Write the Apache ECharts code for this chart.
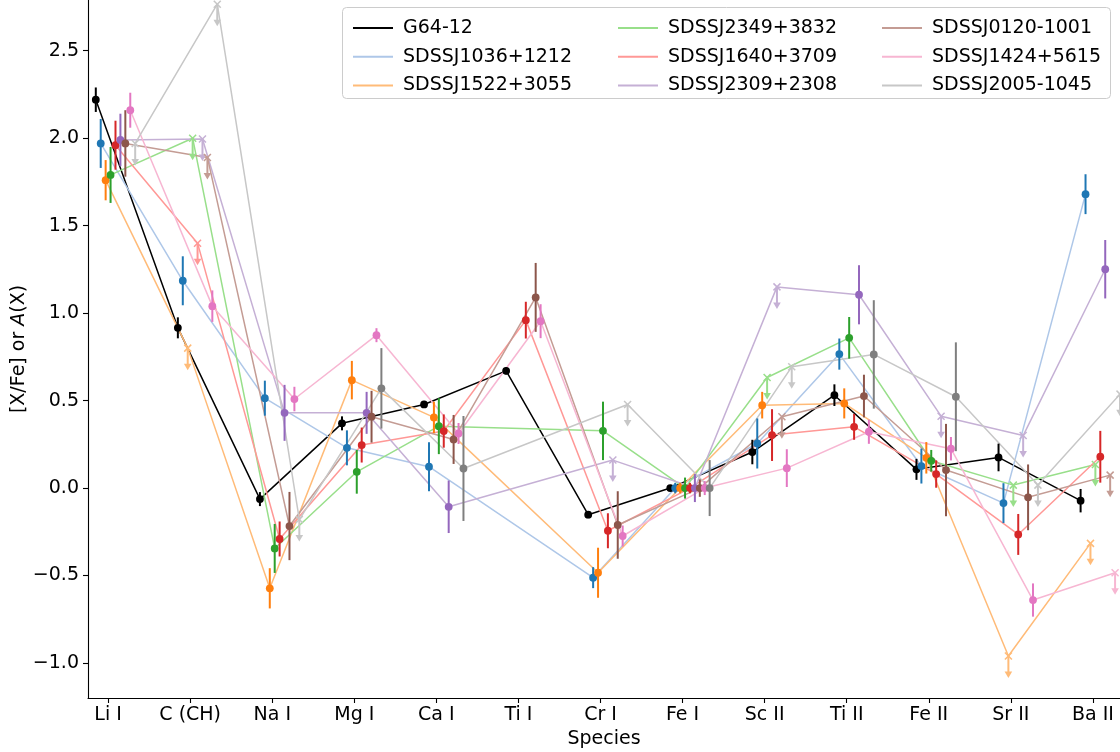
<!DOCTYPE html>
<html>
<head>
<meta charset="utf-8">
<script src="https://cdn.jsdelivr.net/npm/echarts@6/dist/echarts.min.js"></script>
<style>html,body{margin:0;padding:0;background:#fff}#c{width:1120px;height:752px}</style>
</head>
<body>
<div id="c"></div>
<script>
const categories = ['Li I','C (CH)','Na I','Mg I','Ca I','Ti I','Cr I','Fe I','Sc II','Ti II','Fe II','Sr II','Ba II'];
const yTicks = [-1.0, -0.5, 0.0, 0.5, 1.0, 1.5, 2.0, 2.5];
const starNames = ['G64-12','SDSSJ1036+1212','SDSSJ1522+3055','SDSSJ2349+3832','SDSSJ1640+3709','SDSSJ2309+2308','SDSSJ0120-1001','SDSSJ1424+5615','SDSSJ2005-1045'];

// values per star, in category order (null = not measured)
const valG64  = [2.22, 0.916, -0.063, 0.37, 0.478, 0.67, -0.152, 0.0, 0.206, 0.531, 0.107, 0.175, -0.072];
const errG64  = [0.07, 0.06, 0.04, 0.04, 0.02, 0.02, 0.02, 0.01, 0.07, 0.062, 0.06, 0.079, 0.067];
const limG64  = [];

const val1036 = [1.97, 1.185, 0.514, 0.23, 0.122, null, -0.512, 0.0, 0.255, 0.766, 0.126, -0.086, 1.68];
const err1036 = [0.14, 0.14, 0.1, 0.1, 0.14, null, 0.06, 0.03, 0.143, 0.089, 0.1, 0.114, 0.114];
const lim1036 = [];

const val1522 = [1.76, 0.80, -0.573, 0.617, 0.404, null, -0.484, 0.0, 0.474, 0.484, 0.173, -0.96, -0.316];
const err1522 = [0.115, 0, 0.115, 0.11, 0.09, null, 0.143, 0.03, 0.076, 0.086, 0.09, 0, 0];
const lim1522 = [1, 11, 12];

const val2349 = [1.79, 2.0, -0.345, 0.093, 0.354, null, 0.327, 0.0, 0.632, 0.859, 0.156, 0.017, 0.135];
const err2349 = [0.16, 0, 0.14, 0.125, 0.16, null, 0.167, 0.06, 0, 0.119, 0.062, 0, 0];
const lim2349 = [1, 8, 11, 12];

const val1640 = [1.96, 1.40, -0.291, 0.246, 0.326, 0.96, -0.244, 0.0, 0.303, 0.35, 0.08, -0.265, 0.179];
const err1640 = [0.14, 0, 0.1, 0.1, 0.095, 0.105, 0.1, 0.03, 0.148, 0.074, 0.078, 0.117, 0.148];
const lim1640 = [1];

const val2309 = [1.99, 1.995, 0.43, 0.43, -0.107, null, 0.16, 0.0, 1.15, 1.105, 0.411, 0.30, 1.251];
const err2309 = [0.15, 0, 0.16, 0.12, 0.15, null, 0, 0.08, 0, 0.169, 0, 0, 0.167];
const lim2309 = [1, 6, 8, 10, 11];

const val0120 = [1.97, 1.89, -0.217, 0.408, 0.278, 1.09, -0.211, 0.0, 0.408, 0.526, 0.103, -0.053, 0.074];
const err0120 = [0.19, 0, 0.195, 0.148, 0.14, 0.197, 0.193, 0.05, 0, 0.122, 0.264, 0.188, 0];
const lim0120 = [1, 8, 12];

const val1424 = [2.16, 1.04, 0.509, 0.874, 0.312, 0.954, -0.274, 0.0, 0.114, 0.322, 0.225, -0.64, -0.484];
const err1424 = [0.1, 0.09, 0.07, 0.04, 0.06, 0.097, 0.06, 0.04, 0.108, 0.069, 0.067, 0.095, 0];
const lim1424 = [12];

const val2005 = [1.97, 2.766, -0.18, 0.57, 0.112, null, 0.478, 0.0, 0.693, 0.764, 0.522, 0.017, 0.537];
const err2005 = [0, 0, 0, 0.23, 0.3, null, 0, 0.16, 0, 0.31, 0.311, 0, 0];
const lim2005 = [0, 1, 2, 6, 8, 11, 12];

const allVals = [valG64, val1036, val1522, val2349, val1640, val2309, val0120, val1424, val2005];
const allErrs = [errG64, err1036, err1522, err2349, err1640, err2309, err0120, err1424, err2005];
const allLims = [limG64, lim1036, lim1522, lim2349, lim1640, lim2309, lim0120, lim1424, lim2005];

const darkColors  = ['#000000','#1f77b4','#ff7f0e','#2ca02c','#d62728','#9467bd','#8c564b','#e377c2','#7f7f7f'];
const lightColors = ['#000000','#aec7e8','#ffbb78','#98df8a','#ff9896','#c5b0d5','#c49c94','#f7b6d2','#c7c7c7'];
const FONT = 'DejaVu Sans';

function renderPoint(j) {
  return function (params, api) {
    const x = api.value(0), v = api.value(1), e = api.value(2), lim = api.value(3);
    const p = api.coord([x, v]);
    if (lim) {
      const c = lightColors[j], s = 3.5;
      return { type: 'group', children: [
        { type: 'line', shape: { x1: p[0]-s, y1: p[1]-s, x2: p[0]+s, y2: p[1]+s }, style: { stroke: c, lineWidth: 1.5 } },
        { type: 'line', shape: { x1: p[0]-s, y1: p[1]+s, x2: p[0]+s, y2: p[1]-s }, style: { stroke: c, lineWidth: 1.5 } },
        { type: 'line', shape: { x1: p[0], y1: p[1], x2: p[0], y2: p[1]+17 }, style: { stroke: c, lineWidth: 2 } },
        { type: 'polygon', shape: { points: [[p[0]-3.8, p[1]+15.5], [p[0]+3.8, p[1]+15.5], [p[0], p[1]+22]] }, style: { fill: c } }
      ]};
    }
    const c = darkColors[j];
    const t = api.coord([x, v + e]), b = api.coord([x, v - e]);
    return { type: 'group', children: [
      { type: 'line', shape: { x1: t[0], y1: t[1], x2: b[0], y2: b[1] }, style: { stroke: c, lineWidth: 2 } },
      { type: 'circle', shape: { cx: p[0], cy: p[1], r: 3.9 }, style: { fill: c } }
    ]};
  };
}

const series = [];
starNames.forEach(function (name, j) {
  const off = (j - 2.5) * 0.06;
  const linePts = [], pts = [];
  allVals[j].forEach(function (v, i) {
    if (v === null) return;
    const isLim = allLims[j].indexOf(i) >= 0 ? 1 : 0;
    linePts.push([i + off, v]);
    pts.push([i + off, v, allErrs[j][i] || 0, isLim]);
  });
  series.push({
    type: 'line', name: name, data: linePts, symbol: 'none', silent: true, clip: false,
    lineStyle: { color: lightColors[j], width: 1.5 }, itemStyle: { color: lightColors[j] },
    z: 2, animation: false
  });
  series.push({
    type: 'custom', name: name + ' pts', data: pts, renderItem: renderPoint(j), clip: false,
    encode: { x: 0, y: 1 }, z: 3, animation: false, silent: true
  });
});

const legendCols = [348, 613, 877];
const legends = legendCols.map(function (left, c) {
  return {
    orient: 'vertical', left: left, top: 13, itemWidth: 40, itemHeight: 2, itemGap: 8.7,
    icon: 'rect', selectedMode: false, data: starNames.slice(c * 3, c * 3 + 3), z: 20,
    textStyle: { fontSize: 19, fontFamily: FONT, color: '#000', lineHeight: 20, padding: [0, 0, 0, 5] }
  };
});

const chart = echarts.init(document.getElementById('c'), null, { renderer: 'canvas' });
chart.setOption({
  animation: false,
  backgroundColor: '#ffffff',
  textStyle: { fontFamily: FONT },
  grid: { left: 88, top: 0, width: 1032, height: 698, containLabel: false, outerBoundsMode: 'none' },
  graphic: [{
    type: 'rect', left: 342, top: 7, z: 10,
    shape: { width: 768, height: 91, r: 4 },
    style: { fill: 'rgba(255,255,255,0.8)', stroke: '#cccccc', lineWidth: 1 }
  }],
  legend: legends,
  xAxis: {
    type: 'value', min: -0.245, max: 12.33,
    axisLine: { show: true, onZero: false, lineStyle: { color: '#000', width: 1.1 } },
    axisTick: { show: true, length: 5, lineStyle: { color: '#000', width: 1.1 }, customValues: categories.map(function (c, i) { return i; }) },
    axisLabel: { show: true, customValues: categories.map(function (c, i) { return i; }), fontSize: 19, color: '#000', fontFamily: FONT, margin: 8,
      formatter: function (v) { return categories[Math.round(v)]; } },
    splitLine: { show: false },
    name: 'Species', nameLocation: 'middle', nameGap: 32, nameMoveOverlap: false,
    nameTextStyle: { fontSize: 19, color: '#000', fontFamily: FONT }
  },
  yAxis: {
    type: 'value', min: -1.2, max: 2.79,
    axisLine: { show: true, onZero: false, lineStyle: { color: '#000', width: 1.1 } },
    axisTick: { show: true, length: 5, lineStyle: { color: '#000', width: 1.1 }, customValues: yTicks },
    axisLabel: { show: true, customValues: yTicks, fontSize: 19, color: '#000', fontFamily: FONT, margin: 9,
      formatter: function (v) { return v.toFixed(1).replace('-', '\u2212'); } },
    splitLine: { show: false },
    name: '{a|[X/Fe] or }{i|A}{a|(X)}', nameLocation: 'middle', nameGap: 59, nameRotate: 90, nameMoveOverlap: false,
    nameTextStyle: { fontSize: 19, color: '#000', fontFamily: FONT,
      rich: { a: { fontSize: 19, color: '#000', fontFamily: FONT }, i: { fontSize: 19, color: '#000', fontFamily: FONT, fontStyle: 'italic' } } }
  },
  series: series
});
</script>
</body>
</html>
